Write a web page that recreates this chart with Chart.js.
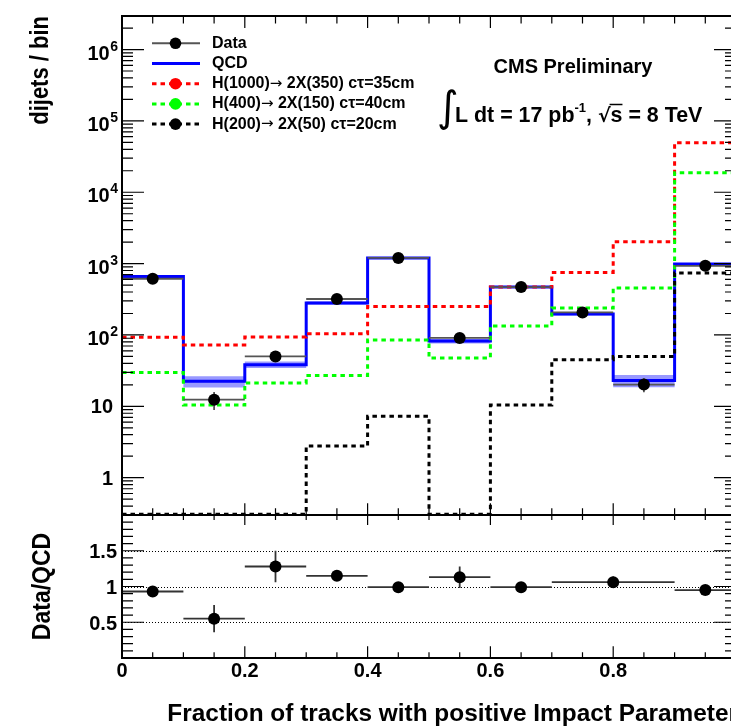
<!DOCTYPE html>
<html>
<head>
<meta charset="utf-8">
<script src="https://cdn.jsdelivr.net/npm/chart.js@4.4.1/dist/chart.umd.min.js"></script>
<style>
  html, body { margin: 0; padding: 0; background: #fff; overflow: hidden; }
  #wrap { position: relative; width: 731px; height: 727px; overflow: hidden; }
  canvas { position: absolute; left: 0; }
  #mainChart { top: 0; }
  #ratioChart { top: 500px; }
</style>
</head>
<body>
<div id="wrap">
  <canvas id="mainChart" width="780" height="540"></canvas>
  <canvas id="ratioChart" width="780" height="227"></canvas>
</div>
<script>
// ---- data ----
const binEdges = [0, 0.1, 0.2, 0.3, 0.4, 0.5, 0.6, 0.7, 0.8, 0.9, 1.0];
const dataX = [0.05, 0.15, 0.25, 0.35, 0.45, 0.55, 0.65, 0.75, 0.85, 0.95];
const dataCounts = [613, 12.4, 50, 319, 1200, 91, 469, 207, 20.2, 931];
const dataErrors = [25, 3.5, 7, 18, 35, 9.5, 22, 14, 4.5, 30];
const qcd = [660, 22.4, 38.4, 280, 1194, 82, 469, 197, 23, 984];
const qcdErr = [20, 4, 4, 15, 30, 6, 15, 10, 4.5, 25];
const h1000 = [93, 72.5, 94, 104, 251, 251, 469, 751, 2018, 49400];
const h400 = [29.7, 10.4, 21.3, 27, 85, 47.7, 134, 239, 454, 18800];
const h200 = [0, 0, 0, 2.77, 7.27, 0, 10.4, 45, 50, 736];

const ratioX = [0.05, 0.15, 0.25, 0.35, 0.45, 0.55, 0.65, 0.8, 0.95];
const ratioXErr = [0.05, 0.05, 0.05, 0.05, 0.05, 0.05, 0.05, 0.1, 0.05];
const ratioVal = [0.93, 0.55, 1.28, 1.15, 0.99, 1.13, 0.99, 1.06, 0.95];
const ratioErr = [0.03, 0.19, 0.22, 0.04, 0.02, 0.15, 0.02, 0.08, 0.03];

// legend labels split around the arrow: [before, arrow, after]
const legendLabels = [
  ['Data', '', ''],
  ['QCD', '', ''],
  ['H(1000)', '\u2192', ' 2X(350) c\u03c4=35cm'],
  ['H(400)', '\u2192', ' 2X(150) c\u03c4=40cm'],
  ['H(200)', '\u2192', ' 2X(50) c\u03c4=20cm']
];
const yDecades = [1, 10, 100, 1e3, 1e4, 1e5, 1e6];
const yDecadeLabels = [['1', ''], ['10', ''], ['10', '2'], ['10', '3'], ['10', '4'], ['10', '5'], ['10', '6']];
const xTickValues = [0, 0.2, 0.4, 0.6, 0.8, 1.0];
const xTickLabels = ['0', '0.2', '0.4', '0.6', '0.8', '1'];
const ratioTickValues = [0.5, 1, 1.5];
const ratioTickLabels = ['0.5', '1', '1.5'];

const Y_MIN = 0.307, Y_MAX = 2.95e6;
const FONT = '"Liberation Sans", Arial, Helvetica, sans-serif';
const RED = '#ff0000', GREEN = '#00ff00', BLUE = '#0000ff';

// histogram outline as stepped line points (left edges + closing point)
function histPoints(vals) {
  const pts = vals.map((v, i) => ({ x: binEdges[i], y: Math.max(v, Y_MIN) }));
  pts.push({ x: binEdges[vals.length], y: Math.max(vals[vals.length - 1], Y_MIN) });
  return pts;
}

function line(ctx, x1, y1, x2, y2) {
  ctx.moveTo(x1, y1); ctx.lineTo(x2, y2);
}

// ROOT style frame with inward ticks on all sides
function framePlugin(cfg) {
  return {
    id: 'rootFrame',
    afterDatasetsDraw(chart) {
      const { ctx, chartArea: a, scales: { x, y } } = chart;
      ctx.save();
      ctx.strokeStyle = '#000';
      ctx.lineWidth = 1.2;
      ctx.beginPath();
      cfg.yMajor.forEach(v => {
        const py = y.getPixelForValue(v);
        line(ctx, a.left, py, a.left + cfg.yMaj, py);
        line(ctx, a.right, py, a.right - cfg.yMaj, py);
      });
      cfg.yMinor.forEach(v => {
        const py = y.getPixelForValue(v);
        line(ctx, a.left, py, a.left + cfg.yMin, py);
        line(ctx, a.right, py, a.right - cfg.yMin, py);
      });
      for (let i = 0; i <= 20; i++) {
        const px = x.getPixelForValue(i * 0.05);
        const major = i % 4 === 0;
        line(ctx, px, a.top, px, a.top + (major ? cfg.topMaj : cfg.topMin));
        line(ctx, px, a.bottom, px, a.bottom - (major ? cfg.botMaj : cfg.botMin));
      }
      ctx.stroke();
      ctx.lineWidth = 2;
      ctx.strokeRect(a.left, a.top, a.right - a.left, a.bottom - a.top);
      ctx.restore();
    }
  };
}

function errorBarPlugin(label, xs, xErr, ys, yErr, color) {
  return {
    id: 'errbars',
    beforeDatasetDraw(chart, args) {
      if (chart.data.datasets[args.index].label !== label) return;
      const { ctx, chartArea: a, scales: { x, y } } = chart;
      ctx.save();
      ctx.beginPath();
      ctx.rect(a.left, a.top, a.right - a.left, a.bottom - a.top);
      ctx.clip();
      ctx.strokeStyle = color;
      ctx.lineWidth = 1.8;
      ctx.beginPath();
      xs.forEach((xv, i) => {
        const py = y.getPixelForValue(ys[i]);
        const px = x.getPixelForValue(xv);
        line(ctx, x.getPixelForValue(xv - xErr[i]), py, x.getPixelForValue(xv + xErr[i]), py);
        line(ctx, px, y.getPixelForValue(ys[i] + yErr[i]), px, y.getPixelForValue(Math.max(ys[i] - yErr[i], 1e-3)));
      });
      ctx.stroke();
      ctx.restore();
    }
  };
}

const logMinor = [];
for (let d = -1; d <= 6; d++) {
  for (let k = 2; k <= 9; k++) {
    const v = k * Math.pow(10, d);
    if (v > Y_MIN && v < Y_MAX) logMinor.push(v);
  }
}
const ratioMinor = [];
for (let i = 1; i < 20; i++) {
  if (i % 5 !== 0) ratioMinor.push(i / 10);
}

const mainText = {
  id: 'mainText',
  afterDraw(chart) {
    const { ctx, chartArea: a, scales: { y } } = chart;
    ctx.save();
    ctx.fillStyle = '#000';
    // y tick labels
    yDecades.forEach((v, i) => {
      const py = y.getPixelForValue(v);
      const [base, sup] = yDecadeLabels[i];
      if (sup) {
        ctx.font = 'bold 14px ' + FONT;
        ctx.textAlign = 'right';
        const sw = ctx.measureText(sup).width;
        ctx.fillText(sup, 118, py + 1);
        ctx.font = 'bold 20px ' + FONT;
        ctx.fillText(base, 118 - sw - 0.5, py + 10);
      } else {
        ctx.font = 'bold 20px ' + FONT;
        ctx.textAlign = 'right';
        ctx.fillText(base, 113, py + 7);
      }
    });
    // y title
    ctx.save();
    ctx.translate(48, a.top);
    ctx.scale(1.15, 1);
    ctx.rotate(-Math.PI / 2);
    ctx.font = 'bold 22px ' + FONT;
    ctx.textAlign = 'right';
    ctx.fillText('dijets / bin', 0, 0);
    ctx.restore();

    // legend
    const x1 = 152, x2 = 200, xm = 175.5, xt = 212;
    const styles = [
      { col: '#555', w: 2, dash: [], mk: '#000' },
      { col: BLUE, w: 3, dash: [], mk: null },
      { col: RED, w: 3, dash: [4.5, 4], mk: RED },
      { col: GREEN, w: 3, dash: [4.5, 4], mk: GREEN },
      { col: '#000', w: 3, dash: [4.5, 4], mk: '#000' }
    ];
    legendLabels.forEach((lab, i) => {
      const ly = 43.3 + i * 20.2;
      const s = styles[i];
      ctx.beginPath();
      ctx.strokeStyle = s.col;
      ctx.lineWidth = s.w;
      ctx.setLineDash(s.dash);
      ctx.moveTo(x1, ly); ctx.lineTo(x2, ly);
      ctx.stroke();
      ctx.setLineDash([]);
      if (s.mk) {
        ctx.beginPath();
        ctx.fillStyle = s.mk;
        ctx.arc(xm, ly, 5.8, 0, Math.PI * 2);
        ctx.fill();
      }
      ctx.fillStyle = '#000';
      ctx.textAlign = 'left';
      ctx.textBaseline = 'middle';
      let tx = xt;
      ctx.font = 'bold 16px ' + FONT;
      ctx.fillText(lab[0], tx, ly);
      tx += ctx.measureText(lab[0]).width;
      if (lab[1]) {
        ctx.font = '15px "DejaVu Sans", sans-serif';
        ctx.fillText(lab[1], tx, ly);
        tx += ctx.measureText(lab[1]).width;
        ctx.font = 'bold 16px ' + FONT;
        ctx.fillText(lab[2], tx, ly);
      }
      ctx.textBaseline = 'alphabetic';
    });

    // CMS label
    ctx.font = 'bold 20px ' + FONT;
    ctx.textAlign = 'center';
    ctx.fillText('CMS Preliminary', 573, 73);

    // luminosity line
    ctx.textAlign = 'left';
    ctx.font = '42px "DejaVu Sans", sans-serif';
    ctx.fillText('\u222b', 437, 121);
    let cx = 455;
    const by = 121.5;
    const part = (t, font, dy) => {
      ctx.font = font;
      ctx.fillText(t, cx, by + (dy || 0));
      const w = ctx.measureText(t).width;
      cx += w;
      return w;
    };
    const F = 'bold 21.4px ' + FONT;
    part('L dt = 17 pb', F);
    part('-1', 'bold 13px ' + FONT, -10);
    part(', ', F);
    part('\u221a', 'bold 19px "DejaVu Sans", sans-serif');
    const sx = cx;
    const sw = part('s', F);
    ctx.beginPath();
    ctx.strokeStyle = '#000';
    ctx.lineWidth = 1.5;
    ctx.moveTo(sx - 1, by - 17); ctx.lineTo(sx + sw, by - 17);
    ctx.stroke();
    part(' = 8 TeV', F);
    ctx.restore();
  }
};

const ratioText = {
  id: 'ratioText',
  afterDraw(chart) {
    const { ctx, chartArea: a, scales: { x, y } } = chart;
    ctx.save();
    ctx.fillStyle = '#000';
    ctx.font = 'bold 20px ' + FONT;
    ctx.textAlign = 'right';
    ratioTickValues.forEach((v, i) => {
      ctx.fillText(ratioTickLabels[i], 117, y.getPixelForValue(v) + 7.5);
    });
    ctx.textAlign = 'center';
    xTickValues.forEach((v, i) => {
      ctx.fillText(xTickLabels[i], x.getPixelForValue(v), 176.7);
    });
    ctx.font = 'bold 24.4px ' + FONT;
    ctx.textAlign = 'right';
    ctx.fillText('Fraction of tracks with positive Impact Parameter', 738, 221);
    ctx.save();
    ctx.translate(50, (a.top + a.bottom) / 2);
    ctx.scale(1.12, 1);
    ctx.rotate(-Math.PI / 2);
    ctx.font = 'bold 23px ' + FONT;
    ctx.textAlign = 'center';
    ctx.fillText('Data/QCD', 0, 0);
    ctx.restore();
    ctx.restore();
  }
};

const ratioGrid = {
  id: 'ratioGrid',
  beforeDatasetsDraw(chart) {
    const { ctx, chartArea: a, scales: { y } } = chart;
    ctx.save();
    ctx.strokeStyle = '#000';
    ctx.lineWidth = 1;
    ctx.setLineDash([1, 2]);
    ratioTickValues.forEach(v => {
      const py = Math.round(y.getPixelForValue(v)) + 0.5;
      ctx.beginPath();
      ctx.moveTo(a.left, py); ctx.lineTo(a.right, py);
      ctx.stroke();
    });
    ctx.restore();
  }
};

const zeroFit = { afterFit(scale) { scale.width = 0; scale.height = 0; } };
function stepLine(label, vals, color, dash, order) {
  return {
    label, data: histPoints(vals), borderColor: color, borderWidth: 3,
    borderDash: dash, stepped: true, pointRadius: 0, fill: false, order
  };
}

new Chart(document.getElementById('mainChart'), {
  type: 'line',
  data: {
    datasets: [
      { label: 'bandHi', data: histPoints(qcd.map((v, i) => v + qcdErr[i])), stepped: true,
        borderWidth: 0, pointRadius: 0, fill: '+1', backgroundColor: 'rgba(70,70,255,0.55)', order: 6 },
      { label: 'bandLo', data: histPoints(qcd.map((v, i) => v - qcdErr[i])), stepped: true,
        borderWidth: 0, pointRadius: 0, fill: false, order: 5 },
      stepLine('QCD', qcd, BLUE, [], 4),
      stepLine('H1000', h1000, RED, [4.5, 4], 3),
      stepLine('H400', h400, GREEN, [4.5, 4], 2),
      stepLine('H200', h200, '#000', [4.5, 4], 1),
      { label: 'Data', data: dataX.map((x, i) => ({ x, y: dataCounts[i] })), showLine: false,
        pointRadius: 6, pointBackgroundColor: '#000', pointBorderWidth: 0, order: 0 }
    ]
  },
  options: {
    responsive: false,
    devicePixelRatio: 1,
    animation: false,
    layout: { padding: { left: 122, right: 44, top: 16, bottom: 25 } },
    plugins: { legend: { display: false }, tooltip: { enabled: false } },
    scales: {
      x: { type: 'linear', min: 0, max: 1, display: false, afterFit: zeroFit.afterFit },
      y: { type: 'logarithmic', min: Y_MIN, max: Y_MAX, display: false, afterFit: zeroFit.afterFit }
    }
  },
  plugins: [
    errorBarPlugin('Data', dataX, dataX.map(() => 0.05), dataCounts, dataErrors, '#555'),
    framePlugin({ yMajor: yDecades, yMinor: logMinor, yMaj: 22, yMin: 11, topMaj: 12, topMin: 7.5, botMaj: 11.7, botMin: 6.7 }),
    mainText
  ]
});

new Chart(document.getElementById('ratioChart'), {
  type: 'line',
  data: {
    datasets: [
      { label: 'Ratio', data: ratioX.map((x, i) => ({ x, y: ratioVal[i] })), showLine: false,
        pointRadius: 6, pointBackgroundColor: '#000', pointBorderWidth: 0 }
    ]
  },
  options: {
    responsive: false,
    devicePixelRatio: 1,
    animation: false,
    layout: { padding: { left: 122, right: 44, top: 15, bottom: 69 } },
    plugins: { legend: { display: false }, tooltip: { enabled: false } },
    scales: {
      x: { type: 'linear', min: 0, max: 1, display: false, afterFit: zeroFit.afterFit },
      y: { type: 'linear', min: 0, max: 2, display: false, afterFit: zeroFit.afterFit }
    }
  },
  plugins: [
    ratioGrid,
    errorBarPlugin('Ratio', ratioX, ratioXErr, ratioVal, ratioErr, '#333'),
    framePlugin({ yMajor: ratioTickValues, yMinor: ratioMinor, yMaj: 22, yMin: 11, topMaj: 10, topMin: 5, botMaj: 11.7, botMin: 5.7 }),
    ratioText
  ]
});
</script>
</body>
</html>
